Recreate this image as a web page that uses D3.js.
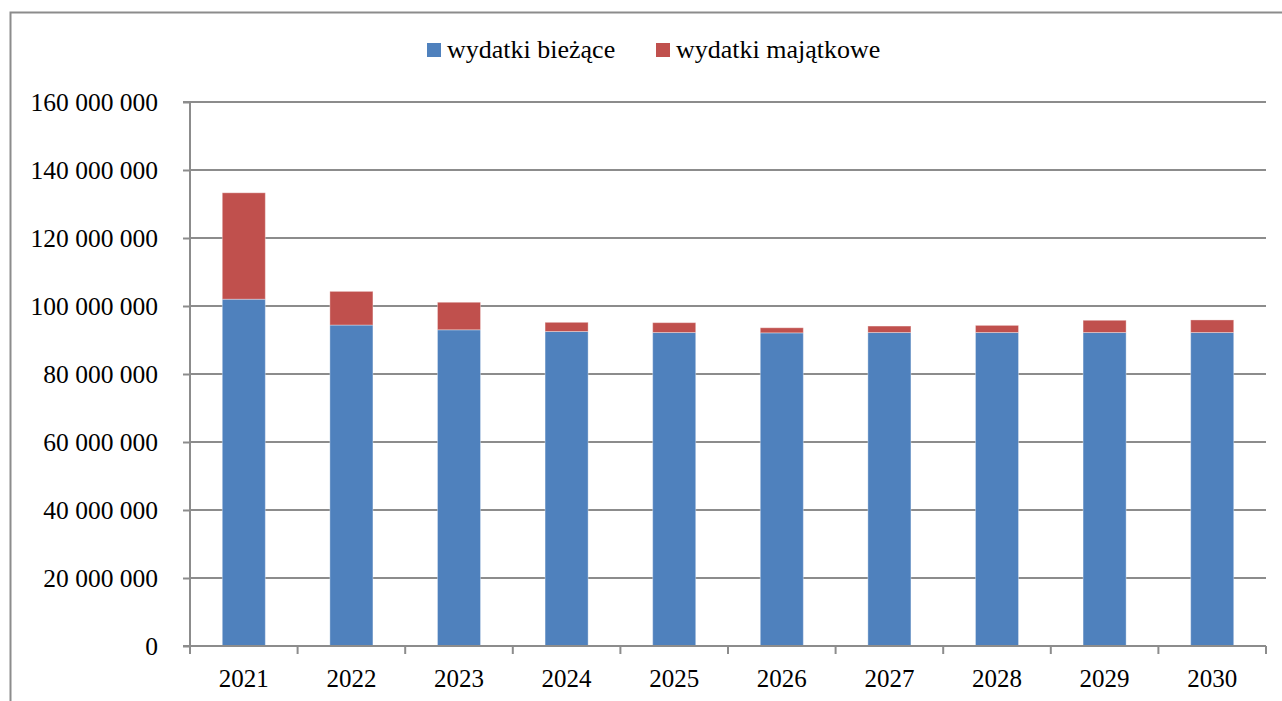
<!DOCTYPE html>
<html><head><meta charset="utf-8">
<script src="https://cdn.jsdelivr.net/npm/d3@7/dist/d3.min.js"></script>
</head><body style="margin:0;background:#fff">
<svg id="c" width="1282" height="701" style="display:block;font-family:'Liberation Serif','Times New Roman',Tinos,serif"></svg>
<script>
const years = ["2021","2022","2023","2024","2025","2026","2027","2028","2029","2030"];
const seriesNames = ["wydatki bieżące","wydatki majątkowe"];
const biezace = [102000000, 94400000, 93000000, 92500000, 92200000, 92100000, 92200000, 92200000, 92200000, 92200000];
const majatkowe = [31300000, 9900000, 8100000, 2700000, 2900000, 1500000, 1900000, 2100000, 3600000, 3700000];
const yTicks = [0, 20000000, 40000000, 60000000, 80000000, 100000000, 120000000, 140000000, 160000000];
const colors = ["#4F81BD", "#C0504D"];

const svg = d3.select("#c");
const FF = "'Liberation Serif','Times New Roman',Tinos,serif";
const L = 190, R = 1266, T = 102, B = 646;

// outer frame
svg.append("path").attr("d", `M10.5,701 V12.5 H1282`).attr("fill","none").attr("stroke","#8c8c8c").attr("stroke-width",2);

const x = d3.scaleBand().domain(years).range([L, R]).paddingInner(0.6).paddingOuter(0.3);
const y = d3.scaleLinear().domain([0, 160000000]).range([B, T]);

// gridlines
svg.append("g").selectAll("line").data(yTicks.slice(1)).join("line")
  .attr("x1", L).attr("x2", R).attr("y1", d => y(d)).attr("y2", d => y(d))
  .attr("stroke", "#8c8c8c").attr("stroke-width", 2);

const stackData = years.map((yr, i) => ({year: yr, b: biezace[i], m: majatkowe[i]}));
const stack = d3.stack().keys(["b","m"])(stackData);
svg.append("g").selectAll("g").data(stack).join("g")
  .attr("fill", (d, i) => colors[i])
  .selectAll("rect").data(d => d).join("rect")
  .attr("x", d => x(d.data.year)).attr("width", x.bandwidth())
  .attr("y", d => y(d[1])).attr("height", d => y(d[0]) - y(d[1]))
  .attr("stroke", "rgba(255,255,255,0.35)").attr("stroke-width", 1);

// y axis
const fmt = d => d3.format(",")(d).replace(/,/g, " ");
const yAxis = d3.axisLeft(y).tickValues(yTicks).tickFormat(fmt).tickSize(7).tickPadding(25);
const gy = svg.append("g").attr("transform", `translate(${L},0)`).call(yAxis);
gy.attr("font-family", FF).attr("font-size", 25.5);
gy.select(".domain").attr("stroke", "#8c8c8c").attr("stroke-width", 2).attr("d", `M-7,${T}H0V${B}H-7`);
gy.selectAll(".tick line").attr("stroke", "#8c8c8c").attr("stroke-width", 2);
gy.selectAll("text").style("font-family", FF).style("font-size", "25.5px").attr("fill", "#000").attr("dy", "0.34em");

// x axis
const xPos = d3.scalePoint().domain(d3.range(years.length + 1)).range([L, R]);
const gx = svg.append("g").attr("transform", `translate(0,${B})`);
gx.append("line").attr("x1", L).attr("x2", R).attr("stroke", "#8c8c8c").attr("stroke-width", 2);
gx.selectAll(".tk").data(d3.range(years.length + 1)).join("line").attr("class","tk")
  .attr("x1", d => xPos(d)).attr("x2", d => xPos(d)).attr("y1", 0).attr("y2", 8)
  .attr("stroke", "#8c8c8c").attr("stroke-width", 2);
gx.selectAll("text").data(years).join("text")
  .attr("x", d => x(d) + x.bandwidth() / 2).attr("y", 41)
  .attr("text-anchor", "middle").attr("font-family", FF).style("font-family", FF).style("font-size", "25px").attr("fill", "#000")
  .text(d => d);

// legend
const leg = svg.append("g");
const legX = [427, 656];
seriesNames.forEach((n, i) => {
  leg.append("rect").attr("x", legX[i]).attr("y", 43).attr("width", 14).attr("height", 14).attr("fill", colors[i]);
  leg.append("text").attr("x", legX[i] + 20).attr("y", 58).attr("font-family", FF).style("font-family", FF).style("font-size", "26px").attr("fill", "#000").text(n);
});
</script>
</body></html>
